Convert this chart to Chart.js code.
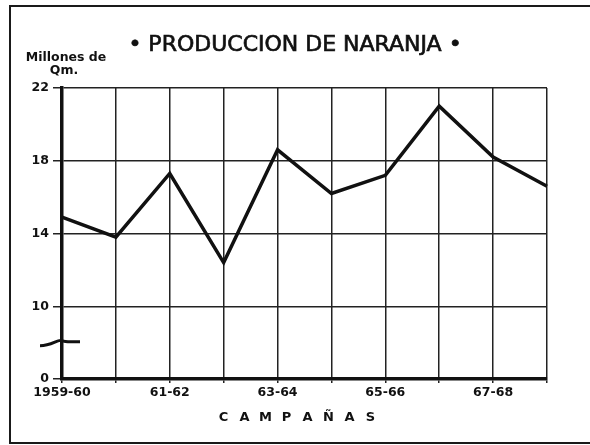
<!DOCTYPE html>
<html>
<head>
<meta charset="utf-8">
<script src="https://cdn.jsdelivr.net/npm/chart.js@4"></script>
<style>
  html, body { margin: 0; padding: 0; background: #fff; overflow: hidden; }
  #wrap { position: relative; width: 590px; height: 445px; overflow: hidden; }
  #frame { position: absolute; left: 9px; top: 5px; width: 600px; height: 439px; border: 2.5px solid #1a1a1a; box-sizing: border-box; pointer-events: none; }
</style>
</head>
<body>
<div id="wrap">
  <canvas id="chart" width="590" height="445"></canvas>
  <div id="frame"></div>
</div>
<script>
// campañas (seasons) and production, millions of Qm.
const campanas = ['1959-60', '60-61', '61-62', '62-63', '63-64', '64-65', '65-66', '66-67', '67-68', '68-69'];
const produccion = [14.9, 13.8, 17.3, 12.4, 18.6, 16.2, 17.2, 21.0, 18.2, 16.6];
const shownLabels = ['1959-60', '61-62', '63-64', '65-66', '67-68'];
// the axis is broken: the lowest tick stands for 0
const yTicks = [6, 10, 14, 18, 22];
const yTickText = { 6: '0', 10: '10', 14: '14', 18: '18', 22: '22' };

const FONT = '"DejaVu Sans", sans-serif';

// title, axis titles and the axis-break mark
const decorations = {
  id: 'decorations',
  afterDraw(chart) {
    const ctx = chart.ctx;
    const area = chart.chartArea;
    const y = chart.scales.y;
    ctx.save();
    ctx.fillStyle = '#111';
    ctx.strokeStyle = '#111';
    ctx.textAlign = 'center';
    ctx.textBaseline = 'middle';

    ctx.font = '22px ' + FONT;
    ctx.lineWidth = 0.7;
    ctx.fillText('\u2022 PRODUCCION DE NARANJA \u2022', 295, 45);
    ctx.strokeText('\u2022 PRODUCCION DE NARANJA \u2022', 295, 45);

    ctx.font = 'bold 12.5px ' + FONT;
    ctx.fillText('Millones de', 66, 58);
    ctx.fillText('Qm.', 64, 71);

    ctx.font = 'bold 13px ' + FONT;
    const word = 'CAMPAÑAS'.split('');
    const step = 21;
    const cx = 297;
    word.forEach((ch, i) => {
      ctx.fillText(ch, cx + (i - (word.length - 1) / 2) * step, 418);
    });

    // break symbol on the y axis
    const by = y.getPixelForValue(8);
    ctx.lineWidth = 3;
    ctx.beginPath();
    ctx.moveTo(area.left - 22, by + 3);
    ctx.bezierCurveTo(area.left - 10, by + 3, area.left - 4, by - 4, area.left, by - 2);
    ctx.bezierCurveTo(area.left + 4, by, area.left + 10, by - 1, area.left + 18, by - 1);
    ctx.stroke();
    ctx.restore();
  }
};

new Chart(document.getElementById('chart'), {
  type: 'line',
  data: {
    labels: campanas,
    datasets: [{
      data: produccion,
      borderColor: '#111',
      borderWidth: 3.5,
      pointRadius: 0,
      tension: 0,
      borderJoinStyle: 'miter'
    }]
  },
  options: {
    responsive: false,
    animation: false,
    layout: { padding: { top: 88, right: 43, left: 0, bottom: 0 } },
    plugins: {
      legend: { display: false },
      tooltip: { enabled: false }
    },
    scales: {
      x: {
        offset: false,
        afterFit(scale) { scale.height = 66; },
        grid: {
          color: '#222',
          lineWidth: 1.5,
          drawTicks: true,
          tickLength: 4,
          tickColor: '#222'
        },
        border: { color: '#111', width: 3.5 },
        ticks: {
          autoSkip: false,
          maxRotation: 0,
          padding: 2,
          color: '#111',
          font: { family: FONT, size: 12.5, weight: 'bold' },
          callback(value, index) {
            const lab = campanas[index];
            return shownLabels.includes(lab) ? lab : '';
          }
        }
      },
      y: {
        min: 6,
        max: 22,
        afterFit(scale) { scale.width = 62; },
        afterBuildTicks(scale) { scale.ticks = yTicks.map(v => ({ value: v })); },
        grid: {
          color: '#222',
          lineWidth: 1.5,
          drawTicks: true,
          tickLength: 9,
          tickColor: '#222'
        },
        border: { color: '#111', width: 3.5 },
        ticks: {
          padding: 4,
          color: '#111',
          font: { family: FONT, size: 12.5, weight: 'bold' },
          callback(value) { return yTickText[value] ?? ''; }
        }
      }
    }
  },
  plugins: [decorations]
});
</script>
</body>
</html>
